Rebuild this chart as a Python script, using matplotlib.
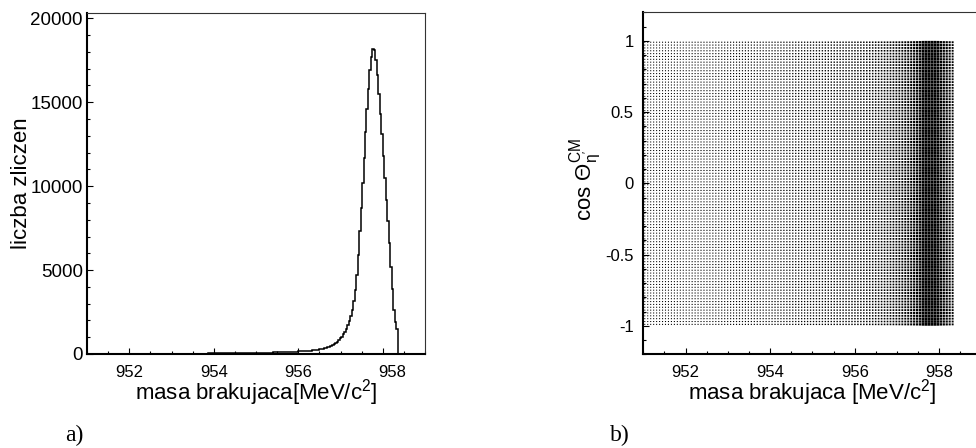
import numpy as np
import matplotlib
matplotlib.use("Agg")
import matplotlib.pyplot as plt
from matplotlib.ticker import MultipleLocator
from matplotlib.collections import PolyCollection
from matplotlib.transforms import ScaledTranslation

plt.rcParams['font.family'] = ['Liberation Sans', 'DejaVu Sans']
plt.rcParams['mathtext.fontset'] = 'custom'
plt.rcParams['mathtext.rm'] = 'Liberation Sans'
plt.rcParams['mathtext.it'] = 'Liberation Sans:italic'
plt.rcParams['mathtext.bf'] = 'Liberation Sans:bold'
plt.rcParams['axes.unicode_minus'] = False

# ---------------- data ----------------
mass_bin_lo = 951.0        # MeV/c^2, first bin edge
mass_bin_width = 0.035     # MeV/c^2
mass_counts = [
    8, 8, 8, 8, 8, 9, 9, 9, 9, 9,
    9, 9, 9, 10, 10, 10, 10, 10, 10, 10,
    11, 11, 11, 11, 11, 11, 12, 12, 12, 12,
    12, 12, 13, 13, 13, 13, 13, 14, 14, 14,
    14, 14, 15, 15, 15, 15, 16, 16, 16, 17,
    17, 17, 17, 18, 18, 18, 19, 19, 19, 20,
    20, 20, 21, 21, 21, 22, 22, 23, 23, 23,
    24, 24, 25, 25, 26, 26, 27, 27, 28, 28,
    29, 29, 30, 31, 31, 32, 33, 33, 34, 35,
    36, 36, 37, 38, 39, 40, 41, 42, 43, 44,
    45, 46, 47, 48, 50, 51, 52, 54, 55, 57,
    58, 60, 61, 63, 65, 66, 68, 70, 72, 74,
    76, 78, 80, 82, 85, 87, 90, 92, 95, 98,
    101, 104, 107, 110, 113, 117, 120, 124, 128, 132,
    136, 140, 145, 150, 155, 160, 165, 171, 177, 183,
    190, 200, 210, 222, 234, 247, 261, 276, 292, 310,
    345, 370, 400, 430, 465, 505, 550, 600, 660, 730,
    820, 930, 1040, 1170, 1320, 1490, 1700, 1950, 2250, 2650,
    3150, 3800, 4700, 5900, 7300, 8700, 10200, 11700, 13200, 14600,
    15800, 16900, 17700, 18200, 18100, 17500, 16600, 15500, 14300, 13100,
    11800, 10500, 9200, 7900, 6600, 5200, 3900, 2600, 1900, 1500,
]
box_merge = 2              # 2D plot uses bins twice as wide in mass
cos_lo, cos_hi, cos_nbins = -1.0, 1.0, 100
cos_weights = [1.0] * cos_nbins   # flat angular distribution

x_ticks = [952, 954, 956, 958]
y_ticks_a = [0, 5000, 10000, 15000, 20000]
y_ticks_b = [-1, -0.5, 0, 0.5, 1]
y_ticklabels_b = ['-1', '-0.5', '0', '0.5', '1']

counts = np.array(mass_counts, dtype=float)
edges = mass_bin_lo + mass_bin_width * np.arange(len(counts) + 1)

# 2D box histogram: mass x cos(theta)
col_tot = counts.reshape(-1, box_merge).sum(axis=1)
bedges = edges[::box_merge]
bcent = 0.5 * (bedges[:-1] + bedges[1:])
bw = bedges[1] - bedges[0]
cos_edges = np.linspace(cos_lo, cos_hi, cos_nbins + 1)
cos_centers = 0.5 * (cos_edges[:-1] + cos_edges[1:])
ch = cos_edges[1] - cos_edges[0]
cell = np.outer(np.array(cos_weights), col_tot) / cos_nbins   # (ny, nx)

W, H = 976, 448
fig = plt.figure(figsize=(W / 100, H / 100), dpi=100)

def frame(ax):
    for s in ['left', 'bottom']:
        ax.spines[s].set_linewidth(1.5)
    for s in ['top', 'right']:
        ax.spines[s].set_linewidth(0.8)
        ax.spines[s].set_color('#333333')
    ax.tick_params(which='both', direction='in', top=False, right=False,
                   width=0.8, color='black')
    ax.tick_params(which='major', length=4.5)
    ax.tick_params(which='minor', length=2.3)

# ---------------- panel a ----------------
axa = fig.add_axes([87 / W, 1 - 354 / H, 338 / W, (354 - 13.3) / H])
axa.stairs(counts, edges, baseline=0, fill=False, color='black', linewidth=1.1)
axa.set_xlim(951.0, 959.0)
axa.set_ylim(0, 20300)
axa.set_xticks(x_ticks)
axa.set_yticks(y_ticks_a)
axa.xaxis.set_minor_locator(MultipleLocator(0.5))
axa.yaxis.set_minor_locator(MultipleLocator(1000))
frame(axa)
axa.tick_params(axis='x', labelsize=12, pad=8)
axa.tick_params(axis='y', labelsize=13.5, pad=3)
axa.set_xlabel('masa brakujaca[MeV/c$^2$]', fontsize=16, va='baseline')
axa.xaxis.set_label_coords(0.5, -0.133)
axa.set_ylabel('liczba zliczen', fontsize=16, va='center')
axa.yaxis.set_label_coords(-0.195, 0.5)
# ROOT pushed the last label of panel a to the right
lab = axa.get_xticklabels()[-1]
lab.set_transform(lab.get_transform() + ScaledTranslation(9 / 100, 0, fig.dpi_scale_trans))

# ---------------- panel b ----------------
axb = fig.add_axes([643.3 / W, 1 - 354.3 / H, 338.3 / W, (354.3 - 12.3) / H])
axb.set_xlim(951.0, 959.0)
axb.set_ylim(-1.2, 1.2)

r = cell / cell.max()
frac = np.maximum(np.minimum(0.95, 1.05 * np.sqrt(r)), 0.85 * r ** 0.11)
XX, YY = np.meshgrid(bcent, cos_centers)
hx = (0.5 * bw * frac).ravel()
hy = (0.5 * ch * frac).ravel()
xc, yc = XX.ravel(), YY.ravel()
verts = np.stack([
    np.column_stack([xc - hx, yc - hy]),
    np.column_stack([xc + hx, yc - hy]),
    np.column_stack([xc + hx, yc + hy]),
    np.column_stack([xc - hx, yc + hy]),
], axis=1)
pc = PolyCollection(verts, facecolors='black', edgecolors='none',
                    antialiaseds=True, snap=False)
axb.add_collection(pc)
axb.set_xticks(x_ticks)
axb.set_yticks(y_ticks_b)
axb.set_yticklabels(y_ticklabels_b)
axb.xaxis.set_minor_locator(MultipleLocator(0.5))
axb.yaxis.set_minor_locator(MultipleLocator(0.1))
frame(axb)
axb.tick_params(axis='x', labelsize=12, pad=8)
axb.tick_params(axis='y', labelsize=12, pad=7)
axb.set_xlabel('masa brakujaca [MeV/c$^2$]', fontsize=16, va='baseline')
axb.xaxis.set_label_coords(0.5, -0.1316)
axb.set_ylabel(r"cos $\mathrm{\Theta^{CM}_{\eta'}}$", fontsize=16, va='center')
axb.yaxis.set_label_coords(-0.17, 0.51)

fig.text(65 / W, 1 - 441 / H, 'a)', family='Liberation Serif', fontsize=17, va='baseline')
fig.text(610 / W, 1 - 441 / H, 'b)', family='Liberation Serif', fontsize=17, va='baseline')

fig.savefig('out.png', dpi=100)
